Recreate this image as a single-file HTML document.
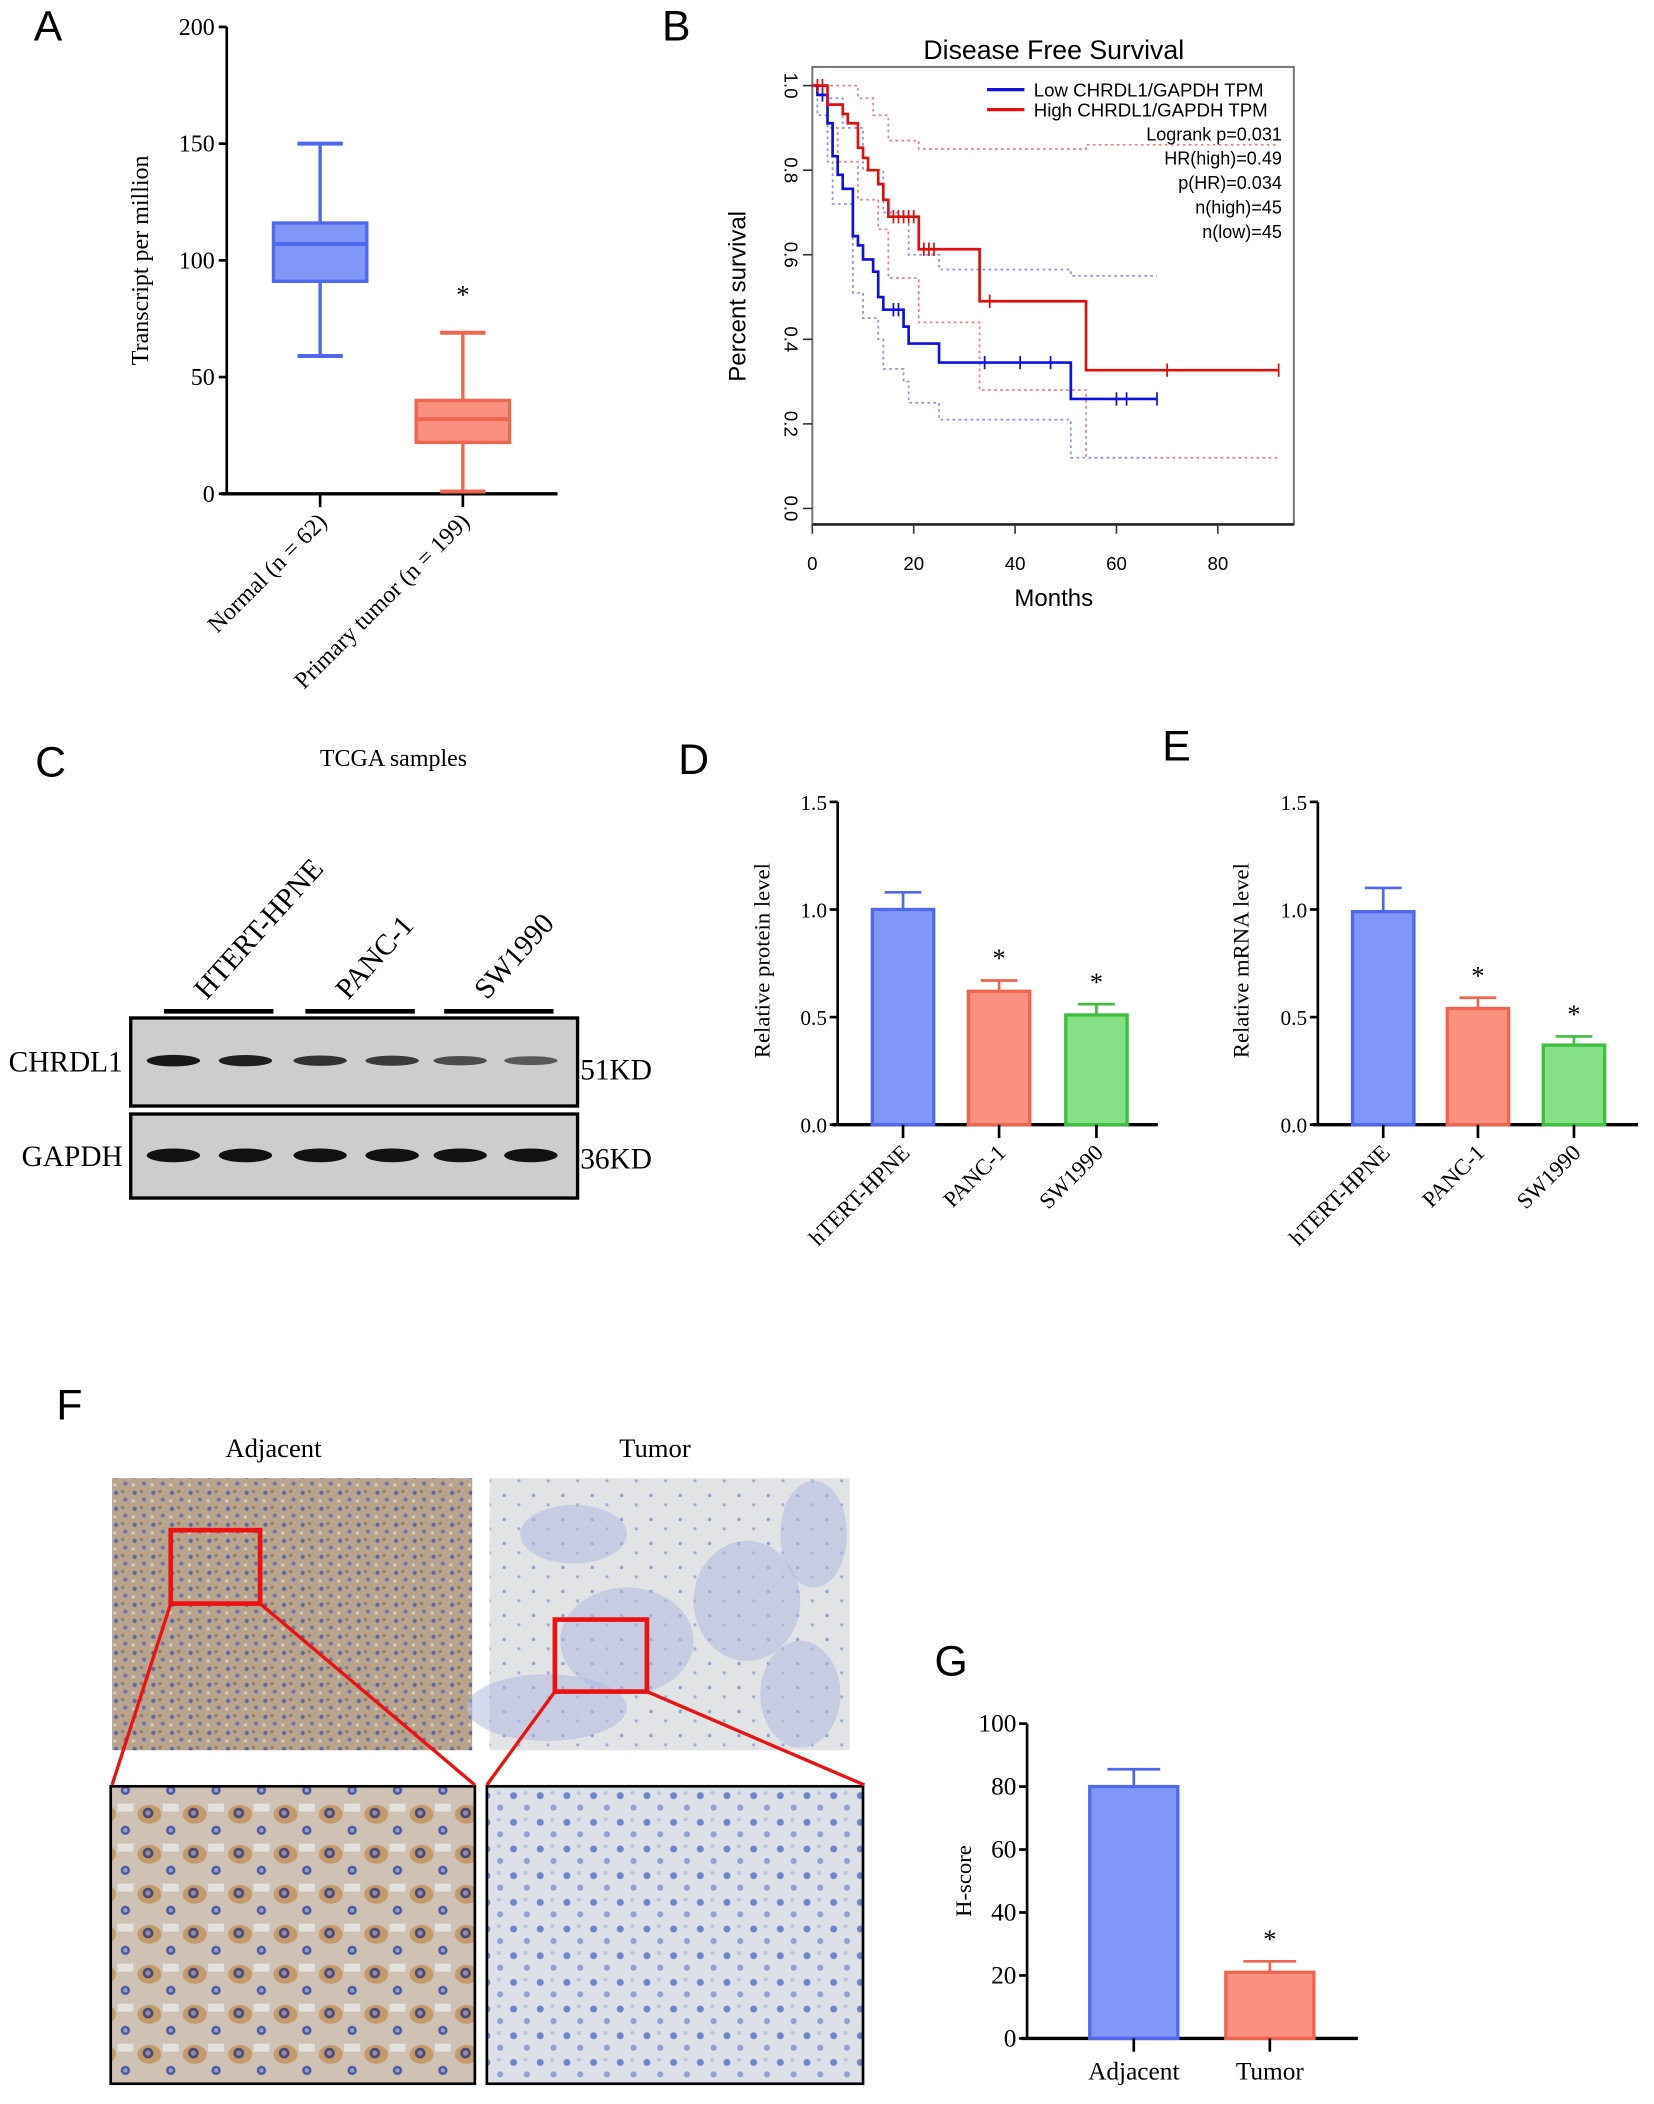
<!DOCTYPE html>
<html><head><meta charset="utf-8"><style>
html,body{margin:0;padding:0;background:#fff}
svg{display:block}
.serif{font-family:"Liberation Serif",serif}
.sans{font-family:"Liberation Sans",sans-serif}
</style></head><body>
<svg id="fig" width="1654" height="2104" viewBox="0 0 1240 1577" xmlns="http://www.w3.org/2000/svg">
<defs>
<pattern id="adjTop" width="14" height="12" patternUnits="userSpaceOnUse">
<rect width="14" height="12" fill="#b8a48c"/>
<circle cx="3" cy="3" r="1.6" fill="#5a6aa8"/><circle cx="10" cy="8" r="1.5" fill="#6a72b0"/><circle cx="8" cy="2" r="1.2" fill="#8c7a66"/><circle cx="2" cy="9" r="1.2" fill="#d8ccc0"/>
</pattern>
<pattern id="adjBot" width="34" height="30" patternUnits="userSpaceOnUse">
<rect width="34" height="30" fill="#cfc2b4"/>
<ellipse cx="10" cy="10" rx="9" ry="7" fill="#c49a6a"/>
<circle cx="9" cy="9" r="4" fill="#4a4a7a"/><circle cx="9" cy="9" r="2" fill="#9a8aa0"/>
<circle cx="26" cy="22" r="3.5" fill="#4a5aa0"/><circle cx="26" cy="22" r="1.6" fill="#9aa0c8"/>
<rect x="20" y="2" width="12" height="6" fill="#e4e0dc"/>
</pattern>
<pattern id="tumTop" width="22" height="18" patternUnits="userSpaceOnUse">
<rect width="22" height="18" fill="#e2e3e5"/>
<circle cx="4" cy="5" r="1.3" fill="#8ea2d0"/><circle cx="15" cy="12" r="1.2" fill="#9cb0d8"/>
</pattern>
<pattern id="tumBot" width="20" height="20" patternUnits="userSpaceOnUse">
<rect width="20" height="20" fill="#dde0e6"/>
<circle cx="5" cy="6" r="2.6" fill="#6c86cc"/><circle cx="15" cy="15" r="2.3" fill="#8ea2d8"/><circle cx="14" cy="4" r="1.5" fill="#b8c4e0"/>
</pattern>
</defs>
<g id="root"></g>
</svg>
<script>
// ---------- Panel A data ----------
const boxCats = ["Normal (n = 62)", "Primary tumor (n = 199)"];
const boxMin = [59, 1];
const boxQ1 = [91, 22];
const boxMed = [107, 32];
const boxQ3 = [116, 40];
const boxMax = [150, 69];
const boxTicks = [0, 50, 100, 150, 200];
// ---------- Panel B data ----------
const highT = [0, 3, 6, 7, 9, 10, 11, 13, 14, 15, 21, 33, 54, 92];
const highS = [1.0, 0.955, 0.933, 0.911, 0.853, 0.829, 0.8, 0.767, 0.73, 0.69, 0.613, 0.49, 0.327, 0.327];
const lowT = [0, 1, 3, 4, 5, 6, 8, 9, 10, 12, 13, 14, 18, 19, 25, 51, 68];
const lowS = [1.0, 0.978, 0.911, 0.833, 0.789, 0.756, 0.644, 0.622, 0.589, 0.56, 0.5, 0.47, 0.43, 0.39, 0.345, 0.259, 0.259];
const highCensT = [1, 2, 16, 17, 18, 19, 20, 22, 23, 24, 35, 70, 92];
const lowCensT = [2, 16, 17, 34, 41, 47, 60, 62, 68];
const highUpT = [0, 9, 12, 15, 21, 54, 92];
const highUpS = [1.0, 0.97, 0.93, 0.87, 0.85, 0.86, 0.86];
const highLoT = [0, 3, 5, 9, 13, 15, 21, 33, 54, 92];
const highLoS = [1.0, 0.9, 0.82, 0.73, 0.66, 0.545, 0.44, 0.28, 0.12, 0.12];
const lowUpT = [0, 3, 6, 10, 14, 19, 25, 51, 68];
const lowUpS = [1.0, 0.97, 0.9, 0.8, 0.7, 0.6, 0.565, 0.55, 0.55];
const lowLoT = [0, 1, 3, 4, 8, 10, 13, 14, 18, 19, 25, 51, 68];
const lowLoS = [1.0, 0.93, 0.82, 0.72, 0.51, 0.45, 0.4, 0.33, 0.3, 0.25, 0.21, 0.12, 0.12];
const kmXTicks = [0, 20, 40, 60, 80];
const kmYTicks = [0.0, 0.2, 0.4, 0.6, 0.8, 1.0];
const kmStats = ["Logrank p=0.031", "HR(high)=0.49", "p(HR)=0.034", "n(high)=45", "n(low)=45"];
// ---------- Panel D/E data ----------
const cellCats = ["hTERT-HPNE", "PANC-1", "SW1990"];
const protVals = [1.0, 0.62, 0.51];
const protErr = [0.08, 0.05, 0.05];
const mrnaVals = [0.99, 0.54, 0.37];
const mrnaErr = [0.11, 0.05, 0.04];
const relTicks = [0.0, 0.5, 1.0, 1.5];
const sigStar = [false, true, true];
// ---------- Panel C data ----------
const chrdlIntensity = [0.95, 0.9, 0.75, 0.7, 0.55, 0.45];
const gapdhIntensity = [1, 1, 1, 1, 1, 1];
// ---------- Panel G data ----------
const hCats = ["Adjacent", "Tumor"];
const hVals = [80, 21];
const hErr = [5.5, 3.5];
const hTicks = [0, 20, 40, 60, 80, 100];

const NS = "http://www.w3.org/2000/svg";
const root = document.getElementById("root");
function mk(tag, attrs, parent, text) {
  const e = document.createElementNS(NS, tag);
  for (const k in attrs) e.setAttribute(k, attrs[k]);
  if (text !== undefined) e.textContent = text;
  (parent || root).appendChild(e);
  return e;
}
function grp(name) {
  const g = mk("g", {});
  
  
  return g;
}
const BLUE = {fill: "#8197f8", stroke: "#4f68ee"};
const RED = {fill: "#f99080", stroke: "#ee6550"};
const GREEN = {fill: "#86e086", stroke: "#3ec03e"};

// Panel letters
[["A", 36, 30], ["B", 507, 30], ["C", 38, 582], ["D", 520, 580], ["E", 882, 570], ["F", 52, 1064], ["G", 713, 1256]].forEach(l => {
  const t = mk("text", {x: l[1], y: l[2], "font-size": 32, "text-anchor": "middle", class: "sans"}, root, l[0]);
  
  
});

// ================= Panel A =================
(function () {
  const g = grp("boxplot-panel-a");
  const ax = 170, y0 = 370, y1 = 20, xEnd = 418;
  const sy = v => y0 - (v / 200) * (y0 - y1);
  const cx = [240, 347];
  mk("line", {x1: ax, y1: y1, x2: ax, y2: y0, stroke: "#000", "stroke-width": 2}, g);
  mk("line", {x1: ax - 4, y1: y0, x2: xEnd, y2: y0, stroke: "#000", "stroke-width": 2.5}, g);
  boxTicks.forEach(v => {
    mk("line", {x1: ax - 6, y1: sy(v), x2: ax, y2: sy(v), stroke: "#000", "stroke-width": 2}, g);
    const t = mk("text", {x: ax - 9, y: sy(v) + 6, "font-size": 18, "text-anchor": "end", class: "serif"}, g, v);
    
    
  });
  const yt = mk("text", {x: 0, y: 0, "font-size": 18, "text-anchor": "middle", class: "serif", transform: `translate(111,195) rotate(-90)`}, g, "Transcript per million");
  
  
  const cols = [BLUE, RED];
  boxCats.forEach((c, i) => {
    const b = grp("box-" + i); g.appendChild(b);
    const col = cols[i], x = cx[i], w = 35;
    mk("line", {x1: x, y1: sy(boxMax[i]), x2: x, y2: sy(boxMin[i]), stroke: col.stroke, "stroke-width": 2.5}, b);
    mk("line", {x1: x - 17, y1: sy(boxMax[i]), x2: x + 17, y2: sy(boxMax[i]), stroke: col.stroke, "stroke-width": 3}, b);
    mk("line", {x1: x - 17, y1: sy(boxMin[i]), x2: x + 17, y2: sy(boxMin[i]), stroke: col.stroke, "stroke-width": 3}, b);
    mk("rect", {x: x - w, y: sy(boxQ3[i]), width: 2 * w, height: sy(boxQ1[i]) - sy(boxQ3[i]), fill: col.fill, stroke: col.stroke, "stroke-width": 2.5}, b);
    mk("line", {x1: x - w, y1: sy(boxMed[i]), x2: x + w, y2: sy(boxMed[i]), stroke: col.stroke, "stroke-width": 3}, b);
    mk("line", {x1: x, y1: y0, x2: x, y2: y0 + 10, stroke: "#000", "stroke-width": 2}, g);
    const t = mk("text", {x: 0, y: 0, "font-size": 18, "text-anchor": "end", class: "serif", transform: `translate(${x + 6},${y0 + 22}) rotate(-45)`}, g, c);
    
    
  });
  const s = mk("text", {x: cx[1], y: sy(boxMax[1]) - 22, "font-size": 20, "text-anchor": "middle", class: "serif"}, g, "*");
  
  
})();

// ================= Panel B =================
(function () {
  const g = grp("survival-panel-b");
  const sx = t => 609 + t * 3.8;
  const sy = v => 381 - v * 317;
  mk("rect", {x: 609, y: 50, width: 361, height: 343, fill: "none", stroke: "#777", "stroke-width": 1.5}, g);
  mk("line", {x1: 609, y1: 393, x2: 970, y2: 393, stroke: "#222", "stroke-width": 2}, g);
  const ti = mk("text", {x: 790, y: 44, "font-size": 20, "text-anchor": "middle", class: "sans"}, g, "Disease Free Survival");
  
  
  kmXTicks.forEach(v => {
    mk("line", {x1: sx(v), y1: 393, x2: sx(v), y2: 400, stroke: "#333", "stroke-width": 1.2}, g);
    const t = mk("text", {x: sx(v), y: 427, "font-size": 14, "text-anchor": "middle", class: "sans"}, g, v);
    
    
  });
  kmYTicks.forEach(v => {
    mk("line", {x1: 602, y1: sy(v), x2: 609, y2: sy(v), stroke: "#333", "stroke-width": 1.2}, g);
    const t = mk("text", {x: 0, y: 0, "font-size": 14, "text-anchor": "middle", class: "sans", transform: `translate(588,${sy(v)}) rotate(90)`}, g, v.toFixed(1));
    
    
  });
  const xt = mk("text", {x: 790, y: 454, "font-size": 18, "text-anchor": "middle", class: "sans"}, g, "Months");
  
  
  const yt = mk("text", {x: 0, y: 0, "font-size": 18, "text-anchor": "middle", class: "sans", transform: `translate(559,222) rotate(-90)`}, g, "Percent survival");
  
  
  function step(T, S) {
    let d = `M${sx(T[0])},${sy(S[0])}`;
    for (let i = 1; i < T.length; i++) d += ` H${sx(T[i])} V${sy(S[i])}`;
    return d;
  }
  function at(T, S, t) { let v = S[0]; for (let i = 0; i < T.length; i++) if (T[i] <= t) v = S[i]; return v; }
  [[highUpT, highUpS, "#f08080", "ci-high-upper"], [highLoT, highLoS, "#f08080", "ci-high-lower"], [lowUpT, lowUpS, "#9090f0", "ci-low-upper"], [lowLoT, lowLoS, "#9090f0", "ci-low-lower"]].forEach(c => {
    const p = mk("path", {d: step(c[0], c[1]), fill: "none", stroke: c[2], "stroke-width": 1.3, "stroke-dasharray": "2 2.5"}, g);
    
    
  });
  [[lowT, lowS, lowCensT, "#1010e0", "low-survival-curve"], [highT, highS, highCensT, "#e01010", "high-survival-curve"]].forEach(c => {
    const p = mk("path", {d: step(c[0], c[1]), fill: "none", stroke: c[3], "stroke-width": 2}, g);
    
    
    c[2].forEach(t => {
      const y = sy(at(c[0], c[1], t));
      mk("line", {x1: sx(t), y1: y - 5, x2: sx(t), y2: y + 5, stroke: c[3], "stroke-width": 1.3}, g);
    });
  });
  const lg = grp("legend"); g.appendChild(lg);
  [["Low CHRDL1/GAPDH TPM", "#1010e0", 67], ["High CHRDL1/GAPDH TPM", "#e01010", 82]].forEach(l => {
    mk("line", {x1: 740, y1: l[2], x2: 768, y2: l[2], stroke: l[1], "stroke-width": 2.5}, lg);
    const t = mk("text", {x: 775, y: l[2] + 5, "font-size": 14, class: "sans"}, lg, l[0]);
    
    
  });
  kmStats.forEach((s, i) => {
    const t = mk("text", {x: 961, y: 105 + i * 18.3, "font-size": 13.5, "text-anchor": "end", class: "sans"}, g, s);
    
    
  });
})();

// ================= Panel C =================
(function () {
  const g = grp("western-blot-panel-c");
  const tt = mk("text", {x: 295, y: 574, "font-size": 18, "text-anchor": "middle", class: "serif"}, g, "TCGA samples");
  
  
  const groups = [["HTERT-HPNE", 123, 205], ["PANC-1", 229, 311], ["SW1990", 333, 415]];
  groups.forEach(gr => {
    mk("line", {x1: gr[1], y1: 758, x2: gr[2], y2: 758, stroke: "#000", "stroke-width": 3.5}, g);
    const t = mk("text", {x: 0, y: 0, "font-size": 22, class: "serif", transform: `translate(${gr[1] + 32},${750}) rotate(-48)`}, g, gr[0]);
    
    
  });
  const lanes = [130, 184, 240, 294, 345, 398];
  [[763, 829, chrdlIntensity, 795, "chrdl1-blot", 11], [835, 898, gapdhIntensity, 866, "gapdh-blot", 13]].forEach(b => {
    const bg = grp(b[4]); g.appendChild(bg);
    mk("rect", {x: 98, y: b[0], width: 335, height: b[1] - b[0], fill: "#cdcdcd", stroke: "#000", "stroke-width": 2.5}, bg);
    b[2].forEach((v, i) => {
      const band = mk("ellipse", {cx: lanes[i], cy: b[3], rx: 20, ry: b[5] * (0.45 + 0.35 * v) / 2, fill: "#111", opacity: 0.3 + 0.7 * v}, bg);
      
      
    });
  });
  [["CHRDL1", 92, 803], ["GAPDH", 92, 874]].forEach(l => {
    const t = mk("text", {x: l[1], y: l[2], "font-size": 22, "text-anchor": "end", class: "serif"}, g, l[0]);
    
    
  });
  [["51KD", 809], ["36KD", 876]].forEach(l => {
    const t = mk("text", {x: 435, y: l[1], "font-size": 22, class: "serif"}, g, l[0]);
    
    
  });
})();

// ================= Bar chart helper =================
function barChart(name, o) {
  const g = grp(name);
  const sy = v => o.y0 - (v - o.vmin) / (o.vmax - o.vmin) * (o.y0 - o.y1);
  mk("line", {x1: o.ax, y1: o.y1, x2: o.ax, y2: o.y0, stroke: "#000", "stroke-width": 2}, g);
  mk("line", {x1: o.ax - 4, y1: o.y0, x2: o.xEnd, y2: o.y0, stroke: "#000", "stroke-width": 2.5}, g);
  o.ticks.forEach(v => {
    mk("line", {x1: o.ax - 6, y1: sy(v), x2: o.ax, y2: sy(v), stroke: "#000", "stroke-width": 2}, g);
    const t = mk("text", {x: o.ax - 8, y: sy(v) + 6, "font-size": o.fs, "text-anchor": "end", class: "serif"}, g, o.fmt(v));
    
    
  });
  const yt = mk("text", {x: 0, y: 0, "font-size": 17, "text-anchor": "middle", class: "serif", transform: `translate(${o.ytx},${o.yty}) rotate(-90)`}, g, o.ytitle);
  
  
  o.cats.forEach((c, i) => {
    const x = o.cx[i], col = o.cols[i], w = o.bw;
    mk("line", {x1: x, y1: sy(o.vals[i]), x2: x, y2: sy(o.vals[i] + o.err[i]), stroke: col.stroke, "stroke-width": 2}, g);
    mk("line", {x1: x - w * 0.3, y1: sy(o.vals[i] + o.err[i]), x2: x + w * 0.3, y2: sy(o.vals[i] + o.err[i]), stroke: col.stroke, "stroke-width": 2}, g);
    const r = mk("rect", {x: x - w / 2, y: sy(o.vals[i]), width: w, height: o.y0 - sy(o.vals[i]), fill: col.fill, stroke: col.stroke, "stroke-width": 2.5}, g);
    
    
    mk("line", {x1: x, y1: o.y0, x2: x, y2: o.y0 + 10, stroke: "#000", "stroke-width": 2}, g);
    if (o.star[i]) {
      const s = mk("text", {x: x, y: sy(o.vals[i] + o.err[i]) - 10, "font-size": 20, "text-anchor": "middle", class: "serif"}, g, "*");
      
      
    }
    const t = o.rot
      ? mk("text", {x: 0, y: 0, "font-size": 17, "text-anchor": "end", class: "serif", transform: `translate(${x + 6},${o.y0 + 22}) rotate(-45)`}, g, c)
      : mk("text", {x: x, y: o.y0 + 31, "font-size": 19, "text-anchor": "middle", class: "serif"}, g, c);
    
    
  });
}
barChart("bar-chart-panel-d", {ax: 628, y0: 843, y1: 601, vmin: 0, vmax: 1.5, xEnd: 868, ticks: relTicks, fmt: v => v.toFixed(1), fs: 16,
  ytitle: "Relative protein level", ytx: 577, yty: 720, cats: cellCats, vals: protVals, err: protErr, cx: [677, 749, 822], bw: 46,
  cols: [BLUE, RED, GREEN], star: sigStar, rot: true});
barChart("bar-chart-panel-e", {ax: 988, y0: 843, y1: 601, vmin: 0, vmax: 1.5, xEnd: 1228, ticks: relTicks, fmt: v => v.toFixed(1), fs: 16,
  ytitle: "Relative mRNA level", ytx: 936, yty: 720, cats: cellCats, vals: mrnaVals, err: mrnaErr, cx: [1037, 1108, 1180], bw: 46,
  cols: [BLUE, RED, GREEN], star: sigStar, rot: true});
barChart("bar-chart-panel-g", {ax: 770, y0: 1528, y1: 1292, vmin: 0, vmax: 100, xEnd: 1018, ticks: hTicks, fmt: v => v, fs: 19,
  ytitle: "H-score", ytx: 728, yty: 1410, cats: hCats, vals: hVals, err: hErr, cx: [850, 952], bw: 66,
  cols: [BLUE, RED], star: [false, true], rot: false});

// ================= Panel F =================
(function () {
  const g = grp("ihc-panel-f");
  [["Adjacent", 205], ["Tumor", 491]].forEach(l => {
    const t = mk("text", {x: l[1], y: 1092, "font-size": 20, "text-anchor": "middle", class: "serif"}, g, l[0]);
    
    
  });
  const imgs = [
    ["adjacent-low-mag-image", 84, 1108, 270, 204, "url(#adjTop)", "none"],
    ["tumor-low-mag-image", 367, 1108, 270, 204, "url(#tumTop)", "none"],
    ["adjacent-high-mag-image", 83, 1339, 273, 223, "url(#adjBot)", "#000"],
    ["tumor-high-mag-image", 365, 1339, 282, 223, "url(#tumBot)", "#000"]];
  imgs.forEach(m => {
    const r = mk("rect", {x: m[1], y: m[2], width: m[3], height: m[4], fill: m[5], stroke: m[6], "stroke-width": 2}, g);
    
    
  });
  // tumor low-mag tissue islands
  [[430, 1150, 40, 22], [470, 1230, 50, 40], [560, 1200, 40, 45], [610, 1150, 25, 40], [410, 1280, 60, 25], [600, 1270, 30, 40]].forEach(e => {
    mk("ellipse", {cx: e[0], cy: e[1], rx: e[2], ry: e[3], fill: "#aebbe0", opacity: 0.55}, g);
  });
  [[128, 1147, 67, 55], [416, 1214, 69, 54]].forEach((s, i) => {
    const r = mk("rect", {x: s[0], y: s[1], width: s[2], height: s[3], fill: "none", stroke: "#ee1111", "stroke-width": 3.5}, g);
    
    
  });
  mk("line", {x1: 128, y1: 1202, x2: 84, y2: 1338, stroke: "#ee1111", "stroke-width": 2.5}, g);
  mk("line", {x1: 195, y1: 1202, x2: 356, y2: 1338, stroke: "#ee1111", "stroke-width": 2.5}, g);
  mk("line", {x1: 416, y1: 1268, x2: 365, y2: 1338, stroke: "#ee1111", "stroke-width": 2.5}, g);
  mk("line", {x1: 485, y1: 1268, x2: 648, y2: 1338, stroke: "#ee1111", "stroke-width": 2.5}, g);
})();
</script>
</body></html>
